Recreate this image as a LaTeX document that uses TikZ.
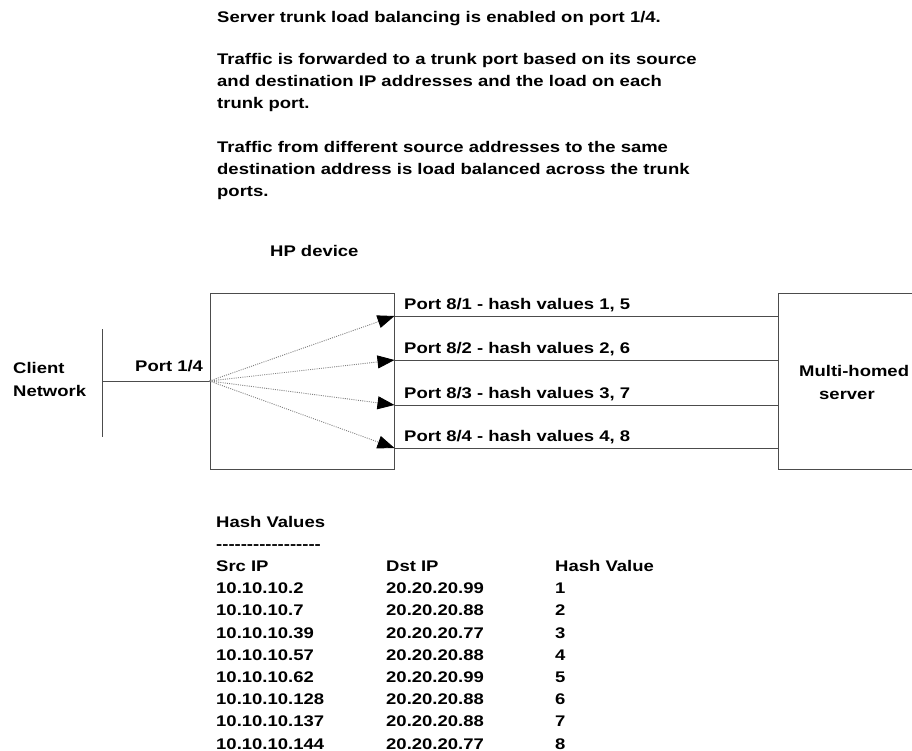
\documentclass[tikz,border=0pt]{standalone}
\usepackage{fontspec}
\setmainfont{Liberation Sans}[FakeStretch=1.2]
\usetikzlibrary{arrows.meta}
\definecolor{linegray}{gray}{0.3}
\begin{document}
\begin{tikzpicture}[x=1pt,y=-1pt,
  every node/.style={font=\fontsize{15.4}{22.2}\bfseries\selectfont, inner sep=0pt, anchor=base west},
  txt/.style={text=black},
  boxstyle/.style={draw=linegray, line width=1pt, minimum width=#1, minimum height=176pt, anchor=center},
  wire/.style={draw=linegray, line width=1pt},
  fan/.style={draw=gray, line width=0.9pt, dash pattern=on 1pt off 1.2pt,
    -{Triangle[length=17pt,width=13pt,color=black]}}
]
\useasboundingbox (0,0) rectangle (912,751);
\clip (0,0) rectangle (912,751);

% heading text
\node[txt] (t1) at (217,23) {Server trunk load balancing is enabled on port 1/4.};
\node[txt] (t2) at (217,65) {Traffic is forwarded to a trunk port based on its source};
\node[txt] (t3) at (217,87) {and destination IP addresses and the load on each};
\node[txt] (t4) at (217,109) {trunk port.};
\node[txt] (t5) at (217,153) {Traffic from different source addresses to the same};
\node[txt] (t6) at (217,175) {destination address is load balanced across the trunk};
\node[txt] (t7) at (217,197) {ports.};

\node[txt] (hplabel) at (270,257) {HP device};

% boxes
\node[boxstyle=184pt] (hp) at (302,381) {};
\node[boxstyle=150pt] (srv) at (853,381) {};
\node[txt] (srv1) at (799,376) {Multi-homed};
\node[txt] (srv2) at (819,399) {server};

% client network
\coordinate (cla) at (102,329);
\coordinate (clb) at (102,437);
\coordinate (clm) at (102,381);
\draw[wire] (cla) -- (clb);
\draw[wire] (clm) -- (hp.west);
\node[txt] (cl1) at (13,373) {Client};
\node[txt] (cl2) at (13,396) {Network};
\node[txt] (p14) at (135,371) {Port 1/4};

% trunk ports
\coordinate (y1) at (0,316);
\coordinate (y2) at (0,360);
\coordinate (y3) at (0,405);
\coordinate (y4) at (0,448);
\foreach \i in {1,2,3,4}{
  \draw[wire] (hp.east |- y\i) -- (srv.west |- y\i);
  \draw[fan] (hp.west) -- (hp.east |- y\i);
}
\node[txt] (pl1) at (404,309) {Port 8/1 - hash values 1, 5};
\node[txt] (pl2) at (404,353) {Port 8/2 - hash values 2, 6};
\node[txt] (pl3) at (404,398) {Port 8/3 - hash values 3, 7};
\node[txt] (pl4) at (404,441) {Port 8/4 - hash values 4, 8};

% hash table
\node[txt] (hv) at (216,527) {Hash Values};
\node[txt] (hd) at (216,549.2) {{-}{-}{-}{-}{-}{-}{-}{-}{-}{-}{-}{-}{-}{-}{-}{-}{-}};
\node[txt] (c1h) at (216,571.4) {Src IP};
\node[txt] (c2h) at (386,571.4) {Dst IP};
\node[txt] (c3h) at (555,571.4) {Hash Value};
\foreach \s/\d/\h [count=\k] in {10.10.10.2/20.20.20.99/1, 10.10.10.7/20.20.20.88/2,
  10.10.10.39/20.20.20.77/3, 10.10.10.57/20.20.20.88/4, 10.10.10.62/20.20.20.99/5,
  10.10.10.128/20.20.20.88/6, 10.10.10.137/20.20.20.88/7, 10.10.10.144/20.20.20.77/8}{
  \node[txt] (s\k) at (216,571.4+22.2*\k) {\s};
  \node[txt] (d\k) at (386,571.4+22.2*\k) {\d};
  \node[txt] (h\k) at (555,571.4+22.2*\k) {\h};
}
\end{tikzpicture}
\end{document}
